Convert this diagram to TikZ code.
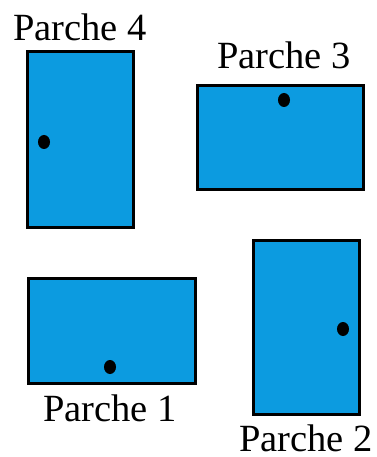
\documentclass[tikz,border=0pt]{standalone}
\usepackage{fontspec}
\setmainfont{Liberation Serif}
\definecolor{patchblue}{RGB}{12,155,224}
\tikzset{
  patch/.style={draw=black, line width=3pt, fill=patchblue, inner sep=0pt, outer sep=0pt},
  lab/.style={anchor=base west, inner sep=0pt, font=\fontsize{38.5}{40}\selectfont},
  hole/.style={fill=black}
}
\begin{document}
\begin{tikzpicture}[x=1pt,y=-1pt]
\useasboundingbox (0,0) rectangle (376,457);
\node[patch, minimum width=106pt, minimum height=176pt] (p4) at (80.5,139.5) {};
\node[patch, minimum width=166pt, minimum height=104pt] (p3) at (280,137.5) {};
\node[patch, minimum width=167pt, minimum height=105pt] (p1) at (112,331) {};
\node[patch, minimum width=106pt, minimum height=174pt] (p2) at (306.5,327.5) {};
\fill[hole] (44,142) ellipse (6pt and 7pt);
\fill[hole] (284,100) ellipse (6pt and 7pt);
\fill[hole] (110,367) ellipse (6pt and 7pt);
\fill[hole] (343,329) ellipse (6pt and 7pt);
\node[lab] (l4) at (13,41) {Parche 4};
\node[lab] (l3) at (217,69) {Parche 3};
\node[lab] (l1) at (43,421) {Parche 1};
\node[lab] (l2) at (239,451) {Parche 2};
\end{tikzpicture}
\end{document}
